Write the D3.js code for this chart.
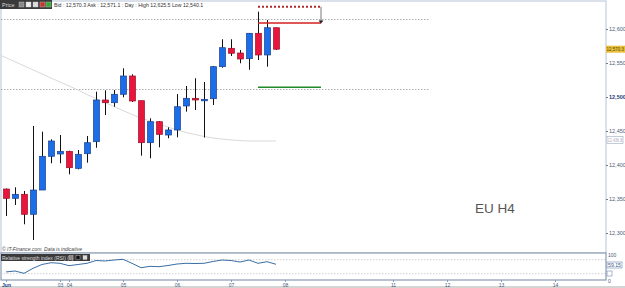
<!DOCTYPE html>
<html>
<head>
<script src="https://d3js.org/d3.v7.min.js"></script>
<style>
  body { margin: 0; background: #fff; }
  svg text { font-family: "Liberation Sans", Arial, sans-serif; }
</style>
</head>
<body>
<script>
// 4H candles, 1 June - 7 June
var opens  = [12364.7,12351.0,12356.9,12327.5,12363.2,12412.8,12416.2,12420.1,12395.1,12416.6,12434.3,12495.6,12491.6,12504.0,12530.9,12494.6,12432.8,12463.7,12444.1,12451.5,12486.8,12498.1,12494.9,12497.5,12544.6,12571.6,12564.7,12556.3,12593.7,12561.8,12601.9];
var highs  = [12365.5,12367.2,12361.8,12457.4,12449.0,12437.8,12444.1,12421.0,12422.1,12442.6,12507.8,12509.9,12510.3,12542.2,12533.4,12494.6,12468.7,12464.7,12455.4,12504.4,12516.2,12527.5,12522.1,12545.6,12584.9,12584.9,12569.1,12594.1,12625.5,12613.2,12601.9];
var lows   = [12325.0,12341.2,12312.8,12289.7,12363.2,12402.5,12402.5,12386.3,12393.7,12403.4,12425.4,12473.5,12485.7,12499.6,12492.6,12413.7,12409.9,12426.0,12439.3,12440.7,12478.4,12480.9,12440.4,12488.2,12543.1,12560.3,12549.6,12540.1,12554.4,12544.6,12569.1];
var closes = [12351.0,12356.9,12327.5,12363.2,12412.8,12435.3,12420.1,12396.0,12415.7,12432.8,12495.6,12491.6,12504.0,12530.9,12494.1,12432.8,12463.7,12445.1,12451.5,12485.7,12498.1,12495.6,12496.6,12544.6,12572.5,12564.3,12555.9,12593.7,12561.8,12601.9,12570.3];

// moving average (starts one bar before the first candle)
var maVals = [12563.8,12557.8,12551.8,12545.9,12539.9,12534.0,12527.9,12522.1,12516.2,12510.3,12503.7,12497.8,12491.9,12486.0,12480.1,12474.3,12469.1,12464.7,12460.3,12455.9,12451.5,12447.8,12444.9,12441.9,12439.7,12438.2,12436.8,12436.0,12435.3,12435.3,12435.3,12435.3];

// RSI (7)
var rsiVals = [35,37.7,31.1,45.4,56.3,61.4,59.7,52.9,56.3,59.7,67.7,66.3,69.1,71.1,59.7,47.1,51.1,50,53.4,57.7,59.7,59.1,59.7,64.9,69.1,67.7,63.4,69.1,59.7,64.3,56.9];

var dayLabels = ["Jun","03","04","05","06","07","08","11","12","13","14"];
var dayIndex  = [0,6,7,13,19,25,31,43,49,55,61];

var yTicks = [12300,12350,12400,12450,12500,12550,12600];
var dottedLevels = [12614.7, 12511.8];
var lastPrice = 12570.3;
var maLast = 12436.8;
var rsiLast = "59.15";
var targetTop = 12632.8, targetLine = 12608.8, greenLevel = 12514.3;

var W = 625, H = 288;
var svg = d3.select("body").append("svg").attr("width", W).attr("height", H);

var left = 1, right = 606, mainTop = 1, mainBot = 253, rsiBot = 280;

var x = d3.scaleLinear().domain([0, 61]).range([6, 555]);
var y = d3.scaleLinear().domain([12300, 12600]).range([233, 29]);
var yr = d3.scaleLinear().domain([30, 70]).range([273.7, 259.7]);

svg.append("clipPath").attr("id", "clipMain")
  .append("rect").attr("x", left).attr("y", mainTop).attr("width", right - left).attr("height", mainBot - mainTop);
svg.append("clipPath").attr("id", "clipRsi")
  .append("rect").attr("x", left).attr("y", mainBot).attr("width", right - left).attr("height", rsiBot - mainBot);

// frames
svg.append("rect").attr("x", left).attr("y", mainTop).attr("width", right - left).attr("height", mainBot - mainTop)
  .attr("fill", "#fff").attr("stroke", "#b8c4d6").attr("stroke-width", 1);
svg.append("rect").attr("x", left).attr("y", mainBot).attr("width", right - left).attr("height", rsiBot - mainBot)
  .attr("fill", "#fff").attr("stroke", "#8a9ab3").attr("stroke-width", 1.2);
svg.append("line").attr("x1", 0).attr("x2", W).attr("y1", 287).attr("y2", 287).attr("stroke", "#aaa");

var g = svg.append("g").attr("clip-path", "url(#clipMain)");

// dotted levels
g.selectAll("line.lvl").data(dottedLevels).enter().append("line")
  .attr("class", "lvl")
  .attr("x1", left).attr("x2", 430)
  .attr("y1", function(d) { return Math.round(y(d)) + 0.5; })
  .attr("y2", function(d) { return Math.round(y(d)) + 0.5; })
  .attr("stroke", "#999").attr("stroke-width", 0.8).attr("stroke-dasharray", "1.5,1.5");

// moving average
var maLine = d3.line().x(function(d, i) { return x(i - 1); }).y(function(d) { return y(d); }).curve(d3.curveMonotoneX);
g.append("path").datum(maVals).attr("d", maLine)
  .attr("fill", "none").attr("stroke", "#dadada").attr("stroke-width", 1);

// candles
var candles = d3.range(opens.length).map(function(i) {
  return { i: i, o: opens[i], h: highs[i], l: lows[i], c: closes[i] };
});
var bw = 6;
var cg = g.selectAll("g.candle").data(candles).enter().append("g").attr("class", "candle");
cg.append("line")
  .attr("x1", function(d) { return Math.round(x(d.i)) + 0.5; })
  .attr("x2", function(d) { return Math.round(x(d.i)) + 0.5; })
  .attr("y1", function(d) { return y(d.h); })
  .attr("y2", function(d) { return y(d.l); })
  .attr("stroke", "#111").attr("stroke-width", 1);
cg.append("rect")
  .attr("x", function(d) { return Math.round(x(d.i)) + 0.5 - bw / 2; })
  .attr("width", bw)
  .attr("y", function(d) { return y(Math.max(d.o, d.c)); })
  .attr("height", function(d) { return Math.max(1.5, Math.abs(y(d.o) - y(d.c))); })
  .attr("fill", function(d) { return d.c >= d.o ? "#1c6ee8" : "#e8163d"; })
  .attr("stroke", function(d) { return d.c >= d.o ? "#1a3f8c" : "#9a1028"; })
  .attr("stroke-width", 0.7);

// target drawing
var tx1 = x(28), tx2 = 321;
g.append("line").attr("x1", tx1).attr("x2", tx2).attr("y1", y(targetTop)).attr("y2", y(targetTop))
  .attr("stroke", "#b0282c").attr("stroke-width", 2).attr("stroke-dasharray", "2,2");
g.append("line").attr("x1", tx1).attr("x2", tx2).attr("y1", y(targetLine)).attr("y2", y(targetLine))
  .attr("stroke", "#d42020").attr("stroke-width", 1.6);
g.append("line").attr("x1", tx2).attr("x2", tx2).attr("y1", y(targetTop)).attr("y2", y(targetLine) - 2)
  .attr("stroke", "#555").attr("stroke-width", 0.8);
g.append("path").attr("d", "M" + (tx2 - 2.5) + "," + (y(targetLine) - 2.5) + "L" + (tx2 + 2.5) + "," + (y(targetLine) - 2.5) + "L" + tx2 + "," + (y(targetLine) + 0.5) + "Z")
  .attr("fill", "#222");
g.append("line").attr("x1", tx1).attr("x2", tx2).attr("y1", y(greenLevel)).attr("y2", y(greenLevel))
  .attr("stroke", "#1f8a2a").attr("stroke-width", 1.6);

// EU H4 label
svg.append("text").attr("x", 475).attr("y", 213).text("EU H4")
  .attr("font-size", 13.5).attr("fill", "#555");

// right price axis
var yAxis = d3.axisRight(y).tickValues(yTicks).tickSize(2).tickPadding(1)
  .tickFormat(d3.format(",.0f"));
var ya = svg.append("g").attr("transform", "translate(" + right + ",0)").call(yAxis);
ya.select(".domain").remove();
ya.selectAll("line").attr("stroke", "#6a7a99");
ya.selectAll("text").attr("font-size", 5.5)
  .attr("font-weight", function(d) { return d === 12500 ? "bold" : "normal"; })
  .attr("fill", function(d) { return d === 12500 ? "#1d3a7a" : "#4a5a78"; });

// last price tag
svg.append("rect").attr("x", right).attr("y", y(lastPrice) - 3.5).attr("width", 19).attr("height", 7)
  .attr("fill", "#e8c03a");
svg.append("text").attr("x", right + 0.5).attr("y", y(lastPrice) + 2).text(d3.format(",.1f")(lastPrice))
  .attr("font-size", 5).attr("textLength", 17.5).attr("lengthAdjust", "spacingAndGlyphs").attr("fill", "#5a4a10");
// MA tag
svg.append("rect").attr("x", right + 1).attr("y", y(maLast) - 3.5).attr("width", 16).attr("height", 7)
  .attr("fill", "#fff").attr("stroke", "#9aa8c0").attr("stroke-width", 0.6);
svg.append("text").attr("x", right + 1.8).attr("y", y(maLast) + 2).text(d3.format(",.1f")(maLast))
  .attr("font-size", 4.6).attr("textLength", 14.5).attr("lengthAdjust", "spacingAndGlyphs").attr("fill", "#aab");

// header bar
svg.append("rect").attr("x", 0).attr("y", 0).attr("width", 52).attr("height", 9).attr("fill", "#3a3a3a");
svg.append("text").attr("x", 2).attr("y", 6.5).text("Price").attr("font-size", 5.5).attr("fill", "#ddd");
[19, 26, 33, 40, 46].forEach(function(px, k) {
  svg.append("rect").attr("x", px).attr("y", 2).attr("width", 5).attr("height", 5)
    .attr("fill", ["#888", "#eee", "#ddd", "#c33", "#3a3"][k]).attr("stroke", "#ccc").attr("stroke-width", 0.4);
});
svg.append("text").attr("x", 54).attr("y", 6.5)
  .text("Bid : 12,570.3 Ask : 12,571.1 : Day : High 12,625.5 Low 12,540.1")
  .attr("font-size", 5.2).attr("fill", "#333");

// footer note
svg.append("text").attr("x", 2).attr("y", 251).text("\u00a9 IT-Finance.com. Data is indicative")
  .attr("font-size", 5).attr("font-style", "italic").attr("fill", "#444");

// RSI panel
var rg = svg.append("g").attr("clip-path", "url(#clipRsi)");
[70, 30].forEach(function(v) {
  rg.append("line").attr("x1", left).attr("x2", right).attr("y1", yr(v)).attr("y2", yr(v))
    .attr("stroke", "#bbb").attr("stroke-width", 0.7).attr("stroke-dasharray", "1.5,1.5");
});
var rsiLine = d3.line().x(function(d, i) { return x(i); }).y(function(d) { return yr(d); });
rg.append("path").datum(rsiVals).attr("d", rsiLine)
  .attr("fill", "none").attr("stroke", "#3a6ea5").attr("stroke-width", 1);

svg.append("rect").attr("x", 1).attr("y", 254).attr("width", 89).attr("height", 7).attr("fill", "#3a3a3a");
svg.append("text").attr("x", 2).attr("y", 259.5).text("Relative strength index (RSI) (7)")
  .attr("font-size", 5).attr("fill", "#ddd");
[69, 76, 83].forEach(function(px, k) {
  svg.append("rect").attr("x", px).attr("y", 255.5).attr("width", 4).attr("height", 4)
    .attr("fill", ["#888", "#111", "#ddd"][k]).attr("stroke", "#ccc").attr("stroke-width", 0.4);
});
svg.append("text").attr("x", right + 2).attr("y", 257).text("100").attr("font-size", 5).attr("fill", "#4a5a78");
svg.append("rect").attr("x", right + 1).attr("y", 262).attr("width", 15).attr("height", 6)
  .attr("fill", "#fff").attr("stroke", "#6a86b0").attr("stroke-width", 0.6);
svg.append("text").attr("x", right + 2).attr("y", 266.8).text(rsiLast)
  .attr("font-size", 4.8).attr("textLength", 13).attr("lengthAdjust", "spacingAndGlyphs").attr("fill", "#3a5a8a");
svg.append("rect").attr("x", right + 1).attr("y", 271).attr("width", 5).attr("height", 5)
  .attr("fill", "#fff").attr("stroke", "#6a86b0").attr("stroke-width", 0.6);
svg.append("text").attr("x", right + 2).attr("y", 283).text("0").attr("font-size", 5).attr("fill", "#4a5a78");

// time axis
var xAxis = d3.axisBottom(x).tickValues(dayIndex).tickSize(2).tickPadding(1)
  .tickFormat(function(d, i) { return dayLabels[i]; });
var xa = svg.append("g").attr("transform", "translate(0," + rsiBot + ")").call(xAxis);
xa.select(".domain").remove();
xa.selectAll("line").attr("stroke", "#8a9ab3");
xa.selectAll("text").attr("font-size", 5)
  .attr("font-weight", function(d, i) { return i === 0 ? "bold" : "normal"; })
  .attr("fill", function(d, i) { return i === 0 ? "#1d3a7a" : "#4a5a78"; });
</script>
</body>
</html>
